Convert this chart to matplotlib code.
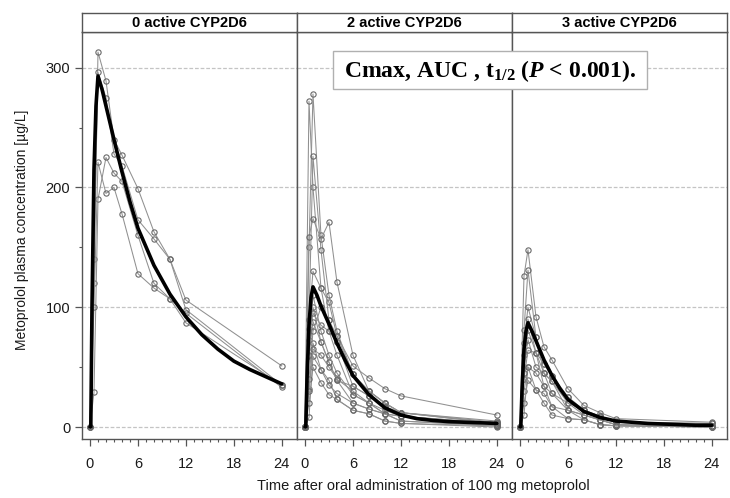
import numpy as np
import matplotlib
matplotlib.use("Agg")
import matplotlib.pyplot as plt
from matplotlib.patches import Rectangle

plt.rcParams["font.family"] = ["Liberation Sans", "DejaVu Sans"]
plt.rcParams["mathtext.fontset"] = "custom"
plt.rcParams["mathtext.rm"] = "Liberation Serif:bold"
plt.rcParams["mathtext.it"] = "Liberation Serif:bold:italic"
plt.rcParams["mathtext.bf"] = "Liberation Serif:bold"

# sampling times (h) of the individual profiles
t_obs = [0, 0.5, 1, 2, 3, 4, 6, 8, 10, 12, 24]

# 0 active CYP2D6
subj_0 = [
    [0, 120, 313, 289, 240, 227, 199, 163, 140, 106, 51],
    [0, 140, 296, 275, 228, 218, 173, 157, 140, 98, 35],
    [0, 29, 190, 225, 212, 205, 160, 120, 107, 95, 33],
    [0, 100, 221, 195, 200, 178, 128, 116, 107, 87, 35],
]
# 2 active CYP2D6
subj_2 = [
    [0, 272, 200, 116, 104, 76, 51, 41, 32, 26, 10],
    [0, 150, 278, 160, 110, 80, 44, 30, 20, 12, 4],
    [0, 90, 226, 148, 89, 71, 34, 26, 17, 9, 3],
    [0, 159, 174, 157, 171, 121, 60, 30, 20, 12, 3],
    [0, 89, 130, 116, 80, 60, 27, 20, 11, 5, 1],
    [0, 82, 100, 71, 54, 39, 20, 15, 11, 9, 2],
    [0, 73, 95, 85, 80, 71, 44, 30, 20, 12, 3],
    [0, 59, 88, 71, 54, 39, 34, 26, 17, 12, 5],
    [0, 32, 70, 48, 39, 23, 14, 11, 5, 3, 1],
    [0, 8, 59, 48, 35, 28, 20, 15, 11, 9, 2],
    [0, 20, 50, 37, 27, 23, 14, 11, 5, 3, 0],
    [0, 40, 80, 100, 89, 76, 44, 26, 17, 9, 3],
    [0, 60, 110, 80, 60, 45, 27, 20, 11, 5, 1],
    [0, 30, 65, 60, 50, 40, 30, 20, 14, 9, 2],
]
# 3 active CYP2D6
subj_3 = [
    [0, 126, 148, 92, 67, 56, 32, 18, 12, 7, 4],
    [0, 81, 131, 75, 53, 43, 25, 14, 9, 4, 3],
    [0, 60, 81, 62, 45, 38, 20, 14, 9, 4, 1],
    [0, 50, 73, 50, 45, 28, 20, 10, 6, 2, 1],
    [0, 40, 64, 62, 53, 43, 25, 14, 9, 4, 3],
    [0, 30, 50, 45, 34, 28, 14, 10, 6, 2, 0],
    [0, 20, 39, 31, 28, 17, 7, 6, 2, 1, 0],
    [0, 70, 100, 75, 45, 38, 14, 10, 6, 2, 1],
    [0, 10, 50, 31, 20, 10, 7, 6, 2, 1, 0],
    [0, 45, 90, 62, 34, 17, 14, 6, 2, 1, 0],
]

# mean (model) curves
t_mean = [0, 0.1, 0.25, 0.5, 0.75, 1, 1.5, 2, 3, 4, 5, 6, 8, 10, 12, 14, 16, 18, 20, 22, 24]
mean_0 = [0, 0, 100, 215, 268, 293, 282, 268, 240, 213, 188, 166, 135, 111, 92, 77, 65, 55, 48, 42, 36]
mean_2 = [0, 0, 40, 85, 108, 117, 110, 101, 86, 70, 56, 43, 27, 16, 10, 7, 5.5, 4.5, 4, 3.5, 3]
mean_3 = [0, 0, 30, 65, 80, 87, 80, 72, 56, 43, 32, 23, 13, 8, 5, 4, 3, 2.5, 2, 1.5, 1.5]

panel_titles = ["0 active CYP2D6", "2 active CYP2D6", "3 active CYP2D6"]
x_ticks = [0, 6, 12, 18, 24]
y_ticks = [0, 100, 200, 300]

panels = [(subj_0, mean_0), (subj_2, mean_2), (subj_3, mean_3)]

W, H = 730, 498
fig = plt.figure(figsize=(W / 100, H / 100), dpi=100)

left_px, right_px = 82, 727
top_px, bottom_px, strip_top_px = 31.7, 439, 12.7
pw = (right_px - left_px) / 3

edge = "#555555"
for i, (subjects, mean) in enumerate(panels):
    x0 = left_px + i * pw
    ax = fig.add_axes([x0 / W, 1 - bottom_px / H, pw / W, (bottom_px - top_px) / H])
    for yv in y_ticks:
        ax.axhline(yv, color="#c4c4c4", lw=0.9, ls=(0, (3, 1.5)), zorder=0)
    for s in subjects:
        ax.plot(t_obs, s, color="#909090", lw=0.75, marker="o", ms=3.8,
                mfc="none", mec="#6a6a6a", mew=0.8, zorder=2)
    ax.plot(t_mean, mean, color="black", lw=2.6, solid_capstyle="round", zorder=3)

    ax.set_xlim(-1.0, 25.9)
    ax.set_ylim(-10, 330)
    ax.set_xticks(x_ticks)
    ax.set_xticks(np.arange(0, 25, 1), minor=True)
    ax.set_yticks(y_ticks)
    ax.set_yticks([50, 150, 250], minor=True)
    ax.tick_params(axis="both", which="major", direction="out", length=5,
                   width=0.9, color=edge, labelsize=10.5, labelcolor="#1a1a1a")
    ax.tick_params(axis="both", which="minor", direction="out", length=2.5,
                   width=0.8, color=edge)
    ax.tick_params(axis="x", pad=8)
    if i > 0:
        ax.tick_params(axis="y", which="both", left=False, labelleft=False)
    for sp in ax.spines.values():
        sp.set_color(edge)
        sp.set_linewidth(1.0)

    # strip header
    sax = fig.add_axes([x0 / W, 1 - top_px / H, pw / W, (top_px - strip_top_px) / H])
    sax.set_xticks([])
    sax.set_yticks([])
    for sp in sax.spines.values():
        sp.set_color(edge)
        sp.set_linewidth(1.0)
    sax.text(0.5, 0.45, panel_titles[i], ha="center", va="center",
             fontsize=10.5, fontweight="bold", transform=sax.transAxes)

fig.text(22 / W, 1 - 230 / H, "Metoprolol plasma concentration [µg/L]",
         rotation=90, ha="center", va="center", fontsize=10, color="#1a1a1a")
fig.text(423 / W, 1 - 486 / H, "Time after oral administration of 100 mg metoprolol",
         ha="center", va="center", fontsize=10.5, color="#1a1a1a")

# annotation box
bx0, by0, bx1, by1 = 333, 51, 647, 89
fig.patches.append(Rectangle((bx0 / W, 1 - by1 / H), (bx1 - bx0) / W, (by1 - by0) / H,
                             transform=fig.transFigure, facecolor="white",
                             edgecolor="#b0b0b0", lw=1.0, zorder=5))
fig.text((bx0 + bx1) / 2 / W, 1 - 71 / H,
         r"Cmax, AUC , t$_{1/2}$ ($\mathit{P}$ < 0.001).",
         ha="center", va="center", fontsize=17, fontweight="bold",
         family="Liberation Serif", zorder=6)

fig.savefig("out.png", dpi=100)
